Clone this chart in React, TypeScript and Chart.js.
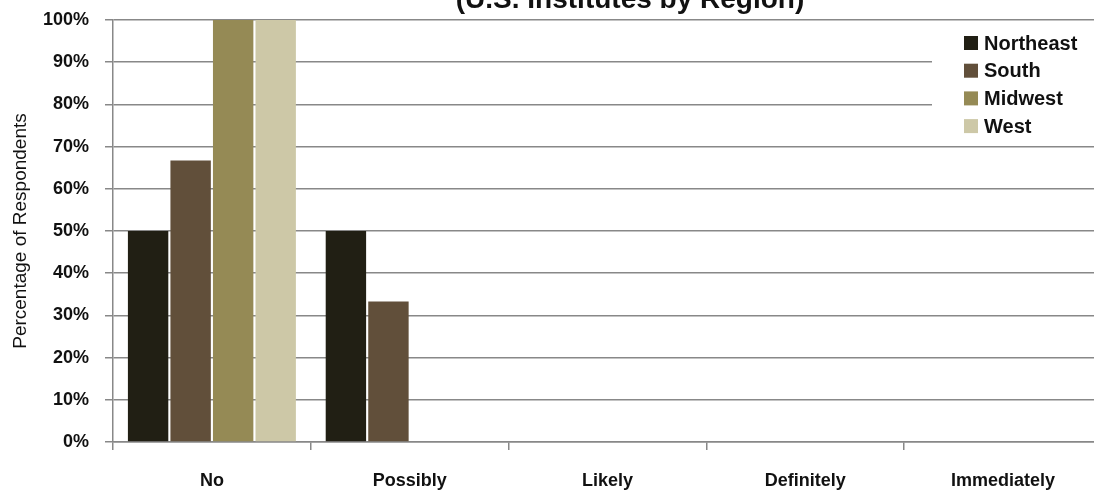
import React, { useEffect, useRef } from "react";
import { Chart, registerables } from "chart.js";

Chart.register(...registerables);

const categories = ["No", "Possibly", "Likely", "Definitely", "Immediately"];
const northeast = [50, 50, 0, 0, 0];
const south = [66.7, 33.3, 0, 0, 0];
const midwest = [100, 0, 0, 0, 0];
const west = [100, 0, 0, 0, 0];
const seriesNames = ["Northeast", "South", "Midwest", "West"];
const seriesColors = ["#211f14", "#614f3a", "#958a55", "#cdc8a7"];
const titleText = "(U.S. Institutes by Region)";
const yAxisTitle = "Percentage of Respondents";

const FONT = "'Liberation Sans', Arial, sans-serif";

const overlayPlugin = {
  id: "overlay",
  afterDraw(chart: any) {
    const { ctx, chartArea } = chart;
    ctx.save();
    // title (top mostly cut off by page edge)
    ctx.font = `bold 28px ${FONT}`;
    ctx.fillStyle = "#111111";
    ctx.textAlign = "center";
    ctx.textBaseline = "alphabetic";
    ctx.fillText(titleText, 630, 8);
    // legend
    ctx.textAlign = "left";
    const boxLeft = chartArea.right - 170;
    ctx.fillStyle = "#ffffff";
    ctx.fillRect(boxLeft, chartArea.top + 4, chartArea.right - boxLeft + 20, 117);
    ctx.font = `bold 20px ${FONT}`;
    ctx.textBaseline = "middle";
    chart.data.datasets.forEach((ds: any, i: number) => {
      const y = chartArea.top + 23 + i * 27.7;
      ctx.fillStyle = ds.backgroundColor;
      ctx.fillRect(boxLeft + 32, y - 7, 14, 14);
      ctx.fillStyle = "#111111";
      ctx.fillText(ds.label, boxLeft + 52, y + 1);
    });
    ctx.restore();
  },
};

export default function App() {
  const ref = useRef<HTMLCanvasElement>(null);
  useEffect(() => {
    const data = [northeast, south, midwest, west];
    const chart = new Chart(ref.current!, {
      type: "bar",
      data: {
        labels: categories,
        datasets: seriesNames.map((name, i) => ({
          label: name,
          data: data[i],
          backgroundColor: seriesColors[i],
          borderWidth: 0,
          barPercentage: 0.95,
          categoryPercentage: 0.86,
        })),
      },
      options: {
        animation: false,
        responsive: false,
        maintainAspectRatio: false,
        layout: { padding: { left: 0, right: 8, top: 0, bottom: 0 } },
        plugins: {
          legend: { display: false },
          tooltip: { enabled: false },
          title: { display: false },
        },
        scales: {
          x: {
            afterFit: (scale: any) => {
              scale.height = 54;
            },
            grid: {
              offset: true,
              drawOnChartArea: false,
              drawTicks: true,
              tickLength: 8,
              color: "#888888",
              lineWidth: 1.5,
            },
            border: { display: true, color: "#888888", width: 1.5 },
            ticks: {
              color: "#111111",
              font: { family: FONT, size: 18, weight: "bold" },
              padding: 20,
            },
          },
          y: {
            min: 0,
            max: 100,
            afterFit: (scale: any) => {
              scale.width = 113;
              scale.paddingTop = 20;
              scale.paddingBottom = 0;
            },
            ticks: {
              stepSize: 10,
              color: "#111111",
              font: { family: FONT, size: 18, weight: "bold" },
              callback: (v: any) => v + "%",
              padding: 16,
            },
            grid: {
              color: "#888888",
              lineWidth: 1.5,
              tickLength: 8,
            },
            border: { display: true, color: "#888888", width: 1.5 },
            title: {
              display: true,
              text: yAxisTitle,
              color: "#111111",
              font: { family: FONT, size: 19, weight: "normal" },
              padding: { top: 9, bottom: 0 },
            },
          },
        },
      },
      plugins: [overlayPlugin],
    });
    return () => chart.destroy();
  }, []);
  return (
    <div
      style={{
        position: "fixed",
        left: 0,
        top: 0,
        width: 1094,
        height: 496,
        overflow: "hidden",
        background: "#ffffff",
      }}
    >
      <canvas
        ref={ref}
        width={1110}
        height={496}
        style={{ position: "absolute", left: 0, top: 0, width: 1110, height: 496 }}
      />
    </div>
  );
}
